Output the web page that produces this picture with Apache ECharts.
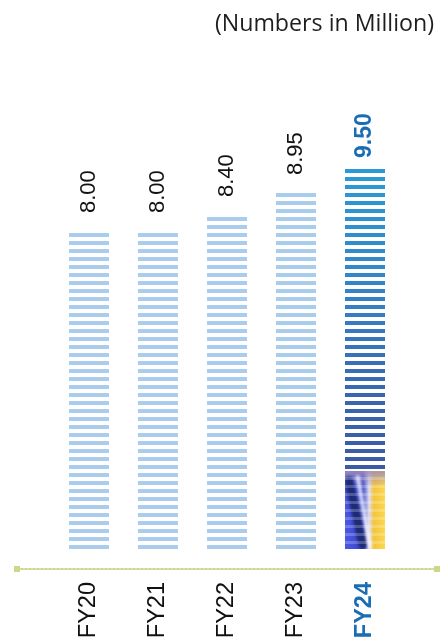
<!DOCTYPE html>
<html>
<head>
    <meta charset="utf-8">
    <title>FY bars</title>
    <script src="https://cdn.jsdelivr.net/npm/echarts@6/dist/echarts.min.js"></script>
    <style>
        html, body { margin: 0; padding: 0; background: #fff; }
        #bar { width: 442px; height: 637px; }
    </style>
</head>
<body>
<div id="bar"></div>
<script type="text/javascript">
    var categories = ['FY20', 'FY21', 'FY22', 'FY23', 'FY24'];
    var values = [8.00, 8.00, 8.40, 8.95, 9.50];
    var valueLabels = ['8.00', '8.00', '8.40', '8.95', '9.50'];

    var lightBlue = '#aacdee';
    var hlBlue = '#1a6db4';

    var myBar = echarts.init(document.getElementById('bar'));

    // horizontal stripes, 4px colour / 4px gap, last stripe sitting on the base
    function stripePattern(color, baseY) {
        var c = document.createElement('canvas');
        c.width = 8; c.height = 8;
        var ctx = c.getContext('2d');
        ctx.fillStyle = color;
        var off = ((Math.round(baseY) - 4) % 8 + 8) % 8;
        ctx.fillRect(0, off, 8, 4);
        if (off + 4 > 8) ctx.fillRect(0, 0, 8, off + 4 - 8);
        return { image: c, repeat: 'repeat' };
    }

    // FY24: gradient stripes + colourful photo-ish bottom
    function highlightPattern(left, top, w, h) {
        var c = document.createElement('canvas');
        c.width = Math.ceil(w); c.height = Math.ceil(h);
        var ctx = c.getContext('2d');
        var g = ctx.createLinearGradient(0, 0, 0, h);
        g.addColorStop(0, '#2a9bd8');
        g.addColorStop(0.35, '#3580c6');
        g.addColorStop(0.6, '#3a66b0');
        g.addColorStop(1, '#3c4d9c');
        var photoTop = h * 0.795;
        for (var y = h - 4; y > -4; y -= 8) {
            ctx.fillStyle = g;
            ctx.fillRect(0, y, w, 4);
        }
        // photo area
        ctx.clearRect(0, photoTop, w, h - photoTop);
        var hg = ctx.createLinearGradient(0, 0, w, 0);
        hg.addColorStop(0, '#4b57e4');
        hg.addColorStop(0.45, '#3b47cc');
        hg.addColorStop(0.6, '#dcdcf0');
        hg.addColorStop(0.72, '#f4c43c');
        hg.addColorStop(1, '#fbd84e');
        ctx.fillStyle = hg;
        ctx.fillRect(0, photoTop, w, h - photoTop);
        var pg = ctx.createLinearGradient(0, photoTop, 0, photoTop + 16);
        pg.addColorStop(0, 'rgba(160,140,185,0.9)');
        pg.addColorStop(1, 'rgba(160,140,185,0)');
        ctx.fillStyle = pg;
        ctx.fillRect(0, photoTop, w, 16);
        ctx.filter = 'blur(1.5px)';
        ctx.lineCap = 'round';
        ctx.strokeStyle = '#1d2a78';
        ctx.lineWidth = 9;
        ctx.beginPath();
        ctx.moveTo(w * 0.1, photoTop + 10);
        ctx.lineTo(w * 0.45, h - 4);
        ctx.stroke();
        ctx.strokeStyle = 'rgba(255,255,255,0.8)';
        ctx.lineWidth = 4;
        ctx.beginPath();
        ctx.moveTo(w * 0.32, photoTop + 6);
        ctx.lineTo(w * 0.62, h - 2);
        ctx.stroke();
        ctx.filter = 'none';
        ctx.fillStyle = 'rgba(255,255,255,0.22)';
        for (var y2 = h - 8; y2 > photoTop; y2 -= 8) {
            ctx.fillRect(0, y2, w, 3);
        }
        return { image: c, repeat: 'no-repeat', x: left, y: top };
    }

    var option = {
        animation: false,
        title: {
            text: '(Numbers in Million)',
            right: 3,
            top: 8,
            textStyle: {
                fontFamily: 'Open Sans',
                fontSize: 23.2,
                fontWeight: 'normal',
                color: '#1e1e1e'
            }
        },
        grid: [
            { left: 54.5, right: 42.5, top: 149, bottom: 88, outerBoundsMode: 'none', containLabel: false },
            { left: 17, right: 5, top: 149, bottom: 68, outerBoundsMode: 'none', containLabel: false }
        ],
        xAxis: [{
            type: 'category',
            gridIndex: 0,
            data: categories,
            offset: 20,
            axisLine: { show: false },
            axisTick: { show: false },
            axisLabel: {
                rotate: 90,
                margin: 13,
                fontFamily: 'Liberation Sans',
                fontSize: 23.5,
                color: '#111',
                formatter: function (v, i) {
                    return i === categories.length - 1 ? '{hl|' + v + '}' : v;
                },
                rich: {
                    hl: { fontFamily: 'Liberation Sans', fontSize: 23.5, fontWeight: 'bold', color: hlBlue }
                }
            }
        }, {
            // the dotted base line with square ends
            type: 'value',
            gridIndex: 1,
            min: 0,
            max: 1,
            axisLine: {
                show: true,
                symbol: ['rect', 'rect'],
                symbolSize: [6, 6],
                lineStyle: { color: '#c9d98c', type: 'dotted', width: 2 }
            },
            axisTick: { show: false },
            axisLabel: { show: false },
            splitLine: { show: false }
        }],
        yAxis: [{
            type: 'value',
            gridIndex: 0,
            min: 0,
            max: 10,
            show: false
        }, {
            type: 'value',
            gridIndex: 1,
            show: false
        }],
        series: [{
            type: 'bar',
            xAxisIndex: 0,
            yAxisIndex: 0,
            barWidth: 40,
            data: values,
            itemStyle: { color: lightBlue },
            label: {
                show: true,
                position: 'top',
                rotate: 90,
                align: 'left',
                verticalAlign: 'middle',
                distance: 16,
                fontFamily: 'Liberation Sans',
                fontSize: 22,
                color: '#111',
                formatter: function (p) { return valueLabels[p.dataIndex]; }
            }
        }]
    };

    myBar.setOption(option);

    // build the fills once pixel positions are known
    var seriesData = values.map(function (v, i) {
        var topPt = myBar.convertToPixel({ seriesIndex: 0 }, [i, v]);
        var basePt = myBar.convertToPixel({ seriesIndex: 0 }, [i, 0]);
        var item = { value: v };
        if (i === values.length - 1) {
            item.itemStyle = { color: highlightPattern(topPt[0] - 20, topPt[1], 40, basePt[1] - topPt[1]) };
            item.label = { fontWeight: 'bold', color: hlBlue, distance: 11, fontSize: 23 };
        } else {
            item.itemStyle = { color: stripePattern(lightBlue, basePt[1]) };
        }
        return item;
    });
    myBar.setOption({ series: [{ data: seriesData }] });
</script>
</body>
</html>
